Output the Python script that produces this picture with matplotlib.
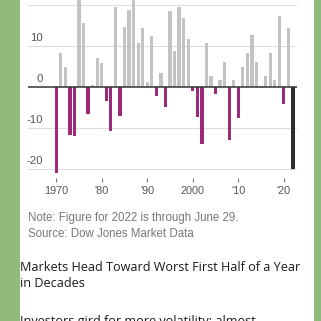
import matplotlib
matplotlib.use("Agg")
import matplotlib.pyplot as plt
from matplotlib.patches import Rectangle
import numpy as np

# S&P 500 first-half change, %, by year
years = list(range(1970, 2023))
values = [-21.0, 8.2, 4.9, -11.7, -11.8, 38.8, 15.6, -6.5, 0.5, 7.1,
          5.8, -3.4, -10.6, 19.5, -7.1, 14.7, 18.7, 25.5, 10.7, 14.5,
          1.3, 12.4, -2.1, 3.4, -4.8, 18.6, 8.9, 19.5, 16.8, 11.7,
          -1.0, -7.3, -13.8, 10.8, 2.6, -1.7, 1.8, 6.0, -12.8, 1.8,
          -7.6, 5.0, 8.3, 12.6, 6.1, 0.2, 2.7, 8.2, 1.7, 17.3,
          -4.0, 14.4, -20.0]
ytick_vals = [20, 10, 0, -10, -20]
xtick_vals = [1970, 1980, 1990, 2000, 2010, 2020]
xtick_labels = ["1970", "'80", "'90", "2000", "'10", "'20"]

note = "Note: Figure for 2022 is through June 29."
source = "Source: Dow Jones Market Data"
headline = ["Markets Head Toward Worst First Half of a Year", "in Decades"]
subhead = "Investors gird for more volatility; almost"

W = H = 321
fig = plt.figure(figsize=(W / 100, H / 100), dpi=100)
fig.patch.set_facecolor("#90bb7d")
fig.patches.append(Rectangle((20 / W, 0), 294 / W, 1, transform=fig.transFigure,
                             facecolor="white", edgecolor="none", zorder=-5))

def px(x, y):
    # pixel coords (from top-left) -> figure fraction
    return x / W, 1 - y / H

ax = fig.add_axes([28 / W, 1 - 178 / H, (297 - 28) / W, 178 / H])
ax.set_facecolor("none")

colors = []
for yr, v in zip(years, values):
    if yr == years[-1]:
        colors.append("#2e2e2e")
    elif v < 0:
        colors.append("#9b2a7b")
    else:
        colors.append("#c3c3c3")
ax.bar(years, values, width=0.72, color=colors, zorder=2)

ax.set_xlim(1963.8, 2022.9)
ax.set_ylim(-22.1, 21.2)

for v in ytick_vals:
    if v == 0:
        ax.axhline(0, color="#333333", lw=1.1, zorder=3)
    else:
        ax.axhline(v, color="#dddddd", lw=0.8, zorder=1)
    ax.annotate(str(v), xy=(15 / 269, v), xycoords=("axes fraction", "data"),
                xytext=(0, 2.2), textcoords="offset points",
                ha="right", va="bottom", fontsize=8.2, color="#555555",
                family="Liberation Sans", annotation_clip=False)

ax.set_yticks([])
ax.set_xticks(xtick_vals)
ax.set_xticklabels(xtick_labels, fontsize=7.8, color="#555555", family="Liberation Sans")
ax.tick_params(axis="x", length=3, width=0.8, color="#777777", pad=3)
for s in ax.spines.values():
    s.set_visible(False)

x0, y0 = px(28, 221)
fig.text(x0, y0, note, fontsize=8.3, color="#777777", family="Liberation Sans", va="baseline")
x0, y0 = px(28, 237)
fig.text(x0, y0, source, fontsize=8.3, color="#777777", family="Liberation Sans", va="baseline")

for i, line in enumerate(headline):
    x0, y0 = px(20, 271 + 16 * i)
    fig.text(x0, y0, line, fontsize=9.1, color="#1a1a1a", family="Open Sans", va="baseline")
x0, y0 = px(20, 325)
fig.text(x0, y0, subhead, fontsize=9.1, color="#1a1a1a", family="Open Sans", va="baseline")

fig.savefig("out.png", dpi=100, facecolor=fig.get_facecolor())
